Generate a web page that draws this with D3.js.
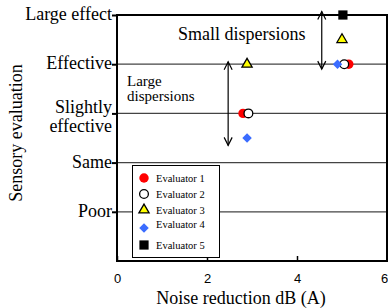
<!DOCTYPE html>
<html>
<head>
<meta charset="utf-8">
<script src="https://cdn.jsdelivr.net/npm/d3@7"></script>
<style>
  body { margin: 0; background: #fff; }
  svg { display: block; }
</style>
</head>
<body>
<div id="chart"></div>
<script>
// evaluation levels (y axis)
var levels = ["Poor", "Same", "Slightly effective", "Effective", "Large effect"];
var levelValues = [1, 2, 3, 4, 5];
var xTicks = [0, 2, 4, 6];

var evaluators = ["Evaluator 1", "Evaluator 2", "Evaluator 3", "Evaluator 4", "Evaluator 5"];
// noise reduction dB(A) and sensory evaluation per evaluator
var e1x = [5.15, 2.8],  e1y = [4, 3];
var e2x = [5.05, 2.92], e2y = [4, 3];
var e3x = [5.0, 2.89],  e3y = [4.5, 4];
var e4x = [4.9, 2.89],  e4y = [4, 2.5];
var e5x = [5.02],       e5y = [5];

var svgWidth = 388, svgHeight = 308;
var margin = {left: 117, right: 1, top: 15, bottom: 47};

var svg = d3.select("#chart").append("svg")
    .attr("width", svgWidth)
    .attr("height", svgHeight);

var x = d3.scaleLinear().domain([0, 6]).range([margin.left, svgWidth - margin.right]);
var y = d3.scaleLinear().domain([0, 5]).range([svgHeight - margin.bottom, margin.top]);

var serif = "'Liberation Serif', 'Times New Roman', serif";

// horizontal grid lines
svg.append("g").selectAll("line")
    .data(levelValues.slice(0, 4))
    .enter().append("line")
    .attr("x1", x(0)).attr("x2", x(6))
    .attr("y1", function(d) { return y(d); })
    .attr("y2", function(d) { return y(d); })
    .attr("stroke", "#444")
    .attr("stroke-width", 1.3);

// frame
svg.append("rect")
    .attr("x", x(0)).attr("y", y(5))
    .attr("width", x(6) - x(0)).attr("height", y(0) - y(5))
    .attr("fill", "none")
    .attr("stroke", "#000")
    .attr("stroke-width", 2);

// y axis ticks + labels
var yAxis = d3.axisLeft(y).tickValues(levelValues).tickSize(5).tickFormat("");
var gy = svg.append("g").attr("transform", "translate(" + x(0) + ",0)").call(yAxis);
gy.select(".domain").remove();
gy.selectAll(".tick line").attr("stroke-width", 2);

levelValues.forEach(function(v, i) {
    var words = levels[i] == "Slightly effective" ? ["Slightly", "effective"] : [levels[i]];
    var t = svg.append("text")
        .attr("y", y(v) + 5 - (words.length - 1) * 5)
        .attr("text-anchor", "end")
        .attr("font-family", serif)
        .attr("font-size", 18);
    words.forEach(function(w, j) {
        t.append("tspan").attr("x", x(0) - 5).attr("dy", j ? 19 : 0).text(w);
    });
});

// x axis ticks (inside) + labels
var xAxis = d3.axisBottom(x).tickValues(xTicks).tickSize(-5).tickPadding(13).tickFormat(d3.format("d"));
var gx = svg.append("g").attr("transform", "translate(0," + y(0) + ")").call(xAxis);
gx.select(".domain").remove();
gx.selectAll(".tick line").attr("stroke-width", 1.5);
gx.selectAll(".tick text")
    .attr("font-family", "'Liberation Sans', Arial, sans-serif")
    .attr("font-size", 13)
    .attr("fill", "#000")
    .attr("dx", function(d) { return d == 6 ? -3 : 0; });

// axis titles
svg.append("text")
    .attr("x", 241).attr("y", 304)
    .attr("text-anchor", "middle")
    .attr("font-family", serif).attr("font-size", 18)
    .text("Noise reduction dB (A)");

svg.append("text")
    .attr("transform", "translate(22,133) rotate(-90)")
    .attr("text-anchor", "middle")
    .attr("font-family", serif).attr("font-size", 18)
    .text("Sensory evaluation");

// dispersion arrows
var arrows = [{x: 4.55, y0: 5.07, y1: 3.9}, {x: 2.47, y0: 4.05, y1: 2.35}];
function arrowHead(px, py, dir) {
    return "M" + (px - 4) + "," + (py + dir * 8) + "L" + px + "," + py + "L" + (px + 4) + "," + (py + dir * 8);
}
arrows.forEach(function(a) {
    var ax = x(a.x), ya = y(a.y0), yb = y(a.y1);
    svg.append("line").attr("x1", ax).attr("x2", ax).attr("y1", ya).attr("y2", yb)
        .attr("stroke", "#000").attr("stroke-width", 1.2);
    svg.append("path").attr("d", arrowHead(ax, ya, 1) + arrowHead(ax, yb, -1))
        .attr("fill", "none").attr("stroke", "#000").attr("stroke-width", 1.2);
});

svg.append("text")
    .attr("x", 178).attr("y", 40)
    .attr("font-family", serif).attr("font-size", 18)
    .text("Small dispersions");

var ld = svg.append("text")
    .attr("font-family", serif).attr("font-size", 15);
ld.append("tspan").attr("x", 127).attr("y", 86).text("Large");
ld.append("tspan").attr("x", 127).attr("y", 101).text("dispersions");

// markers
var styles = [
    {type: d3.symbolCircle, size: 70, fill: "#ff0000", stroke: "none"},
    {type: d3.symbolCircle, size: 60, fill: "#fff", stroke: "#000"},
    {type: d3.symbolTriangle, size: 45, fill: "#ffff00", stroke: "#000"},
    {type: d3.symbolSquare, size: 45, fill: "#3a6cff", stroke: "none", rotate: 45},
    {type: d3.symbolSquare, size: 85, fill: "#000", stroke: "none"}
];
var seriesX = [e1x, e2x, e3x, e4x, e5x];
var seriesY = [e1y, e2y, e3y, e4y, e5y];

function drawSymbol(g, s, px, py) {
    g.append("path")
        .attr("d", d3.symbol().type(s.type).size(s.size))
        .attr("transform", "translate(" + px + "," + py + ")" + (s.rotate ? " rotate(" + s.rotate + ")" : ""))
        .attr("fill", s.fill)
        .attr("stroke", s.stroke)
        .attr("stroke-width", 1.3);
}

var pts = svg.append("g");
seriesX.forEach(function(xs, i) {
    xs.forEach(function(v, j) {
        drawSymbol(pts, styles[i], x(v), y(seriesY[i][j]));
    });
});

// legend
var legend = svg.append("g");
legend.append("rect")
    .attr("x", 132.5).attr("y", 165.5).attr("width", 87).attr("height", 92)
    .attr("fill", "#fff").attr("stroke", "#000").attr("stroke-width", 1);
var rowY = [178, 194, 210, 228, 245];
evaluators.forEach(function(name, i) {
    drawSymbol(legend, styles[i], 144, rowY[i]);
    legend.append("text")
        .attr("x", 156).attr("y", rowY[i] + (i == 3 ? 0 : 4))
        .attr("font-family", serif).attr("font-size", 10.5)
        .text(name);
});
</script>
</body>
</html>
